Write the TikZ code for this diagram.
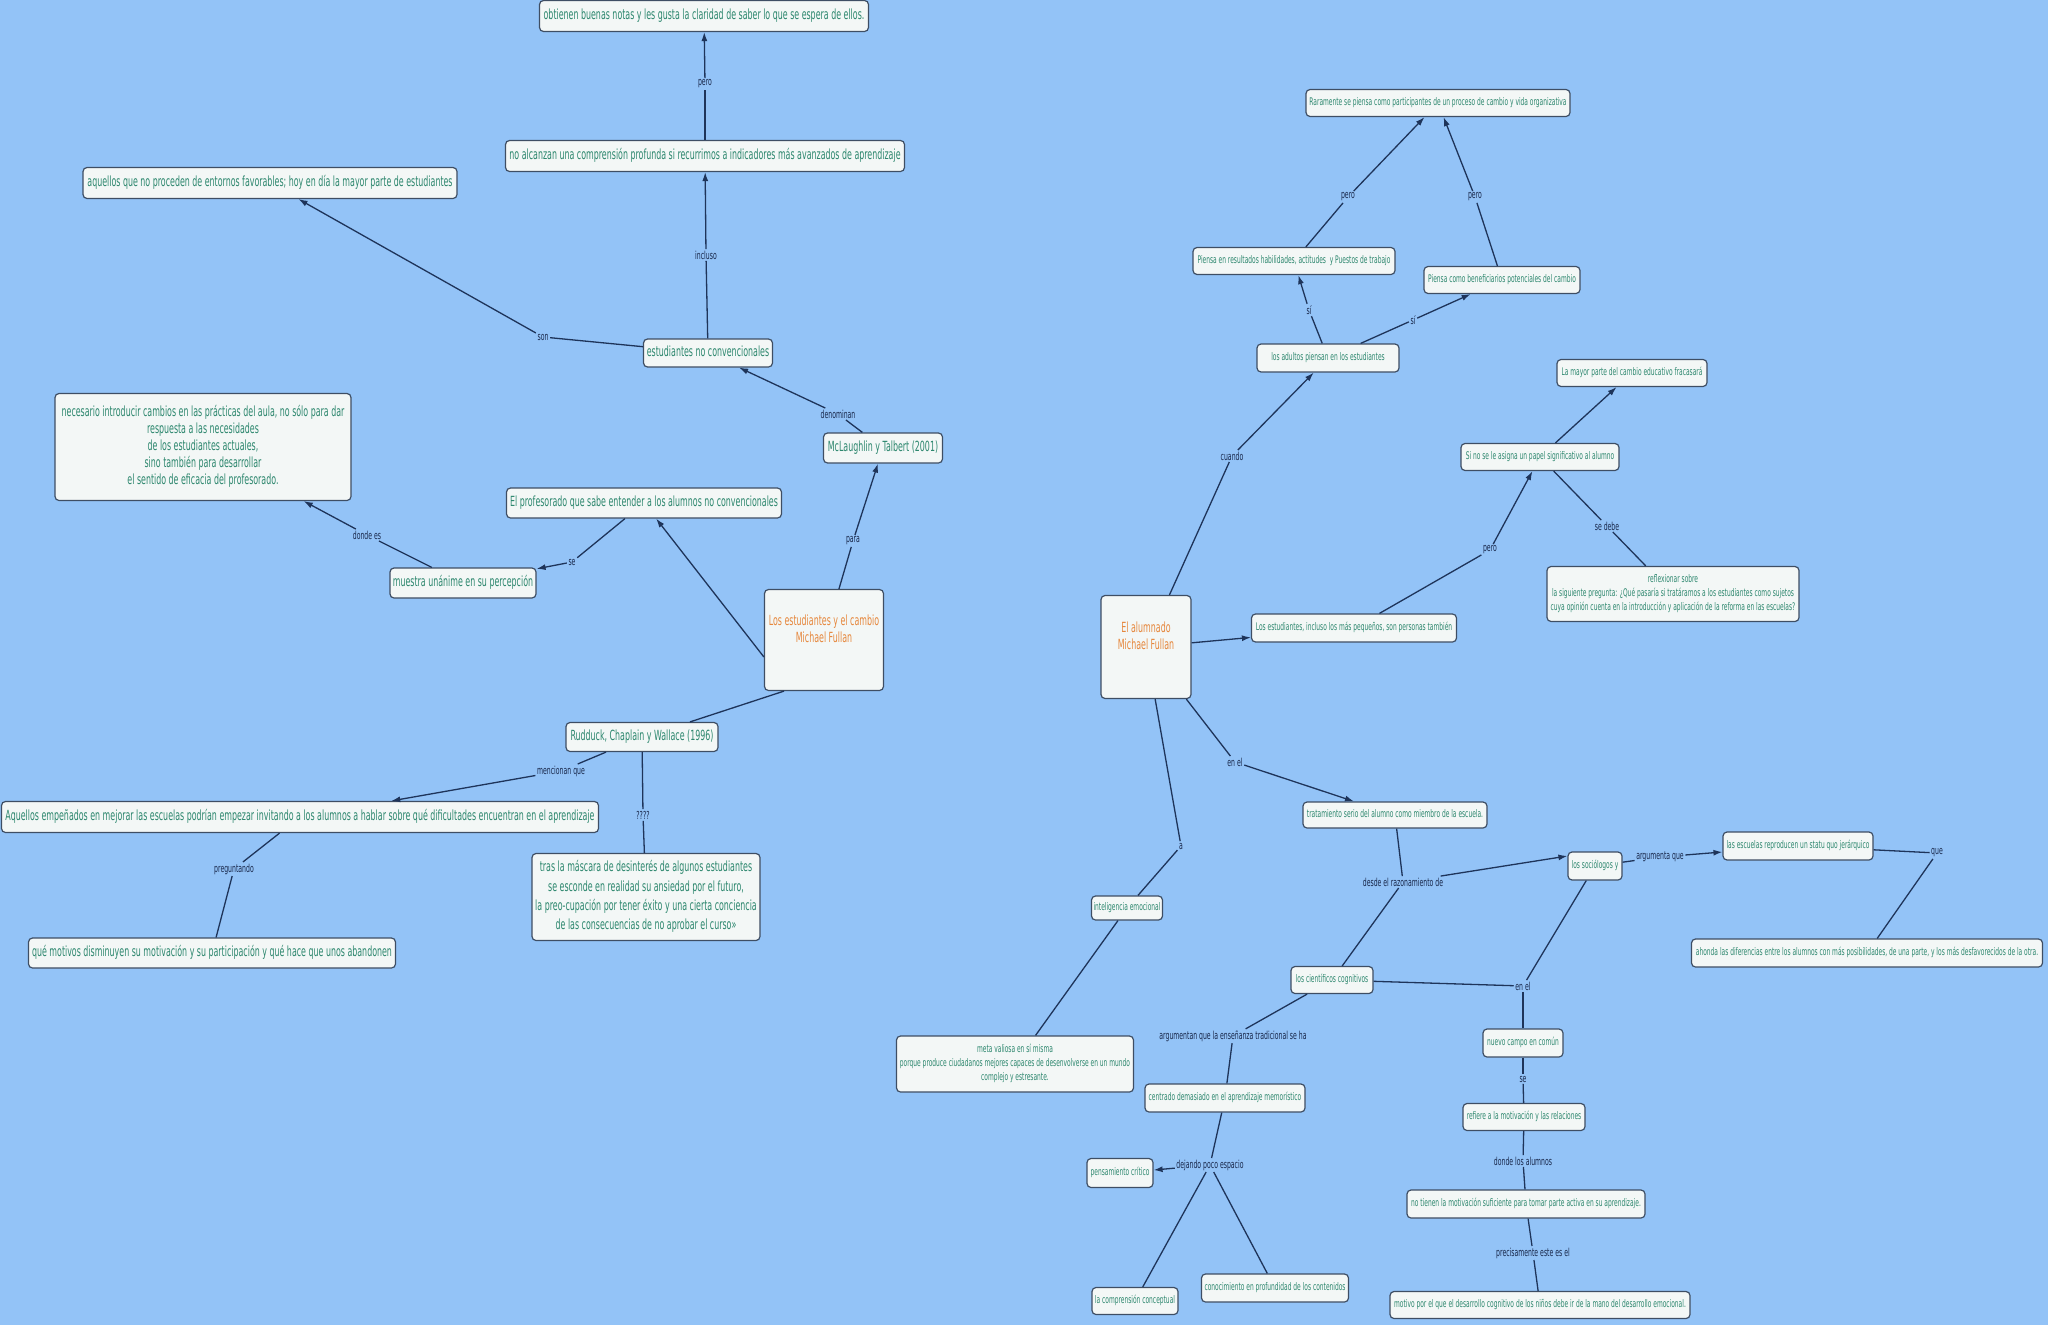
\documentclass[tikz,border=0pt]{standalone}
\usepackage{fontspec}
\usepackage{graphicx}
\setmainfont{DejaVu Sans}
\usetikzlibrary{arrows.meta}
\definecolor{bg}{RGB}{147,195,247}
\definecolor{boxfill}{RGB}{243,247,246}
\definecolor{boxdraw}{RGB}{62,78,100}
\definecolor{ctext}{RGB}{45,135,110}
\definecolor{ltext}{RGB}{25,40,75}
\definecolor{linec}{RGB}{30,52,90}
\definecolor{orangec}{RGB}{230,135,60}
\newcommand{\Lt}[1]{\scalebox{0.565}[1]{\fontsize{14}{17}\selectfont\begin{tabular}{@{}c@{}}#1\end{tabular}}}
\newcommand{\Tt}[1]{\scalebox{0.565}[1]{\fontsize{14}{19.3}\selectfont\begin{tabular}{@{}c@{}}#1\end{tabular}}}
\newcommand{\Rt}[1]{\scalebox{0.565}[1]{\fontsize{10.5}{14}\selectfont\begin{tabular}{@{}c@{}}#1\end{tabular}}}
\newcommand{\Lb}[1]{\scalebox{0.56}[1]{\fontsize{11}{12}\selectfont #1}}
\tikzset{
  cbox/.style={draw=boxdraw, line width=1.2pt, fill=boxfill, rounded corners=4pt, inner sep=0pt, text=ctext},
  mainbox/.style={cbox, text=orangec},
  lbl/.style={inner sep=1.5pt, text=ltext},
  conn/.style={draw=linec, line width=1.3pt},
  arr/.style={conn, -{Latex[length=9pt,width=6pt]}}
}
\begin{document}
\begin{tikzpicture}[x=1pt,y=-1pt]
\fill[bg] (0,0) rectangle (2048,1325);
\useasboundingbox (0,0) rectangle (2048,1325);

% ---------- left map ----------
\node[cbox, minimum width=329pt, minimum height=31pt] (obt) at (704,16) {\Lt{obtienen buenas notas y les gusta la claridad de saber lo que se espera de ellos.}};
\node[cbox, minimum width=399pt, minimum height=31pt] (noal) at (705,156) {\Lt{no alcanzan una comprensión profunda si recurrimos a indicadores más avanzados de aprendizaje}};
\node[cbox, minimum width=374pt, minimum height=31pt] (aqu) at (270,183) {\Lt{aquellos que no proceden de entornos favorables; hoy en día la mayor parte de estudiantes}};
\node[cbox, minimum width=129pt, minimum height=28pt] (est) at (708,353) {\Lt{estudiantes no convencionales}};
\node[cbox, minimum width=119pt, minimum height=30pt] (mcl) at (883,448) {\Lt{McLaughlin y Talbert (2001)}};
\node[cbox, minimum width=275pt, minimum height=30pt] (prof) at (644,503) {\Lt{El profesorado que sabe entender a los alumnos no convencionales}};
\node[cbox, minimum width=296pt, minimum height=107pt] (nec) at (203,447) {\Lt{necesario introducir cambios en las prácticas del aula, no sólo para dar\\respuesta a las necesidades\\de los estudiantes actuales,\\sino también para desarrollar\\el sentido de eficacia del profesorado.}};
\node[cbox, minimum width=146pt, minimum height=30pt] (mue) at (463,583) {\Lt{muestra unánime en su percepción}};
\node[mainbox, minimum width=119pt, minimum height=101pt] (cen1) at (824,640) {\Lt{Los estudiantes y el cambio\\Michael Fullan\\[18pt]}};
\node[cbox, minimum width=152pt, minimum height=29pt] (rud) at (642,737) {\Lt{Rudduck, Chaplain y Wallace (1996)}};
\node[cbox, minimum width=597pt, minimum height=31pt] (aqe) at (300,817) {\Lt{Aquellos empeñados en mejorar las escuelas podrían empezar invitando a los alumnos a hablar sobre qué dificultades encuentran en el aprendizaje}};
\node[cbox, minimum width=367pt, minimum height=30pt] (que) at (212,953) {\Lt{qué motivos disminuyen su motivación y su participación y qué hace que unos abandonen}};
\node[cbox, minimum width=228pt, minimum height=87pt] (tras) at (646,897) {\Tt{tras la máscara de desinterés de algunos estudiantes\\se esconde en realidad su ansiedad por el futuro,\\la preo-cupación por tener éxito y una cierta conciencia\\de las consecuencias de no aprobar el curso»}};

% left labels
\node[lbl] (lpero1) at (705,84) {\Lb{pero}};
\node[lbl] (lincl) at (706,255) {\Lb{incluso}};
\node[lbl] (lson) at (543,337) {\Lb{son}};
\node[lbl] (lden) at (838,414) {\Lb{denominan}};
\node[lbl] (lpara) at (853,541) {\Lb{para}};
\node[lbl] (ldes) at (367,535) {\Lb{donde es}};
\node[lbl] (lse1) at (572,562) {\Lb{se}};
\node[lbl] (lmen) at (561,771) {\Lb{mencionan que}};
\node[lbl] (lpreg) at (234,869) {\Lb{preguntando}};
\node[lbl] (lq) at (643,815) {\Lb{????}};

% left connectors
\draw[conn] (noal) -- (lpero1); \draw[arr] (lpero1) -- (obt);
\draw[conn] (est) -- (lincl); \draw[arr] (lincl) -- (noal);
\draw[conn] (est) -- (lson); \draw[arr] (lson) -- (aqu);
\draw[conn] (mcl) -- (lden); \draw[arr] (lden) -- (est);
\draw[conn] (cen1) -- (lpara); \draw[arr] (lpara) -- (mcl);
\draw[arr] ([yshift=-17pt]cen1.west) -- (prof);
\draw[conn] (prof) -- (lse1); \draw[arr] (lse1) -- (mue);
\draw[conn] (mue) -- (ldes); \draw[arr] (ldes) -- (nec);
\draw[conn] ([xshift=-40pt]cen1.south) -- ([xshift=48pt]rud.north);
\draw[conn] (rud) -- (lmen); \draw[arr] (lmen) -- (aqe);
\draw[conn] (rud) -- (lq); \draw[conn] (lq) -- (tras);
\draw[conn] (aqe) -- (lpreg); \draw[conn] (lpreg) -- (que);

% ---------- right map ----------
\node[mainbox, minimum width=90pt, minimum height=103pt] (cen2) at (1146,647) {\Lt{El alumnado\\Michael Fullan\\[18pt]}};
\node[cbox, minimum width=264pt, minimum height=27pt] (rar) at (1438,103) {\Rt{Raramente se piensa como participantes de un proceso de cambio y vida organizativa}};
\node[cbox, minimum width=202pt, minimum height=27pt] (pres) at (1294,261) {\Rt{Piensa en resultados habilidades, actitudes\ \ y Puestos de trabajo}};
\node[cbox, minimum width=156pt, minimum height=27pt] (pcom) at (1502,280) {\Rt{Piensa como beneficiarios potenciales del cambio}};
\node[cbox, minimum width=142pt, minimum height=28pt] (adu) at (1328,358) {\Rt{los adultos piensan en los estudiantes}};
\node[cbox, minimum width=150pt, minimum height=27pt] (may) at (1632,373) {\Rt{La mayor parte del cambio educativo fracasará}};
\node[cbox, minimum width=158pt, minimum height=27pt] (sino) at (1540,457) {\Rt{Si no se le asigna un papel significativo al alumno}};
\node[cbox, minimum width=252pt, minimum height=55pt] (refl) at (1673,594) {\Rt{reflexionar sobre\\la siguiente pregunta: ¿Qué pasaría si tratáramos a los estudiantes como sujetos\\cuya opinión cuenta en la introducción y aplicación de la reforma en las escuelas?}};
\node[cbox, minimum width=205pt, minimum height=28pt] (lep) at (1354,628) {\Rt{Los estudiantes, incluso los más pequeños, son personas también}};
\node[cbox, minimum width=184pt, minimum height=26pt] (trat) at (1395,815) {\Rt{tratamiento serio del alumno como miembro de la escuela.}};
\node[cbox, minimum width=71pt, minimum height=24pt] (intel) at (1127,908) {\Rt{inteligencia emocional}};
\node[cbox, minimum width=237pt, minimum height=56pt] (meta) at (1015,1064) {\Rt{meta valiosa en sí misma\\porque produce ciudadanos mejores capaces de desenvolverse en un mundo\\complejo y estresante.}};
\node[cbox, minimum width=82pt, minimum height=27pt] (cient) at (1332,980) {\Rt{los científicos cognitivos}};
\node[cbox, minimum width=54pt, minimum height=28pt] (soc) at (1595,866) {\Rt{los sociólogos y}};
\node[cbox, minimum width=150pt, minimum height=28pt] (esc) at (1798,846) {\Rt{las escuelas reproducen un statu quo jerárquico}};
\node[cbox, minimum width=351pt, minimum height=28pt] (aho) at (1867,953) {\Rt{ahonda las diferencias entre los alumnos con más posibilidades, de una parte, y los más desfavorecidos de la otra.}};
\node[cbox, minimum width=80pt, minimum height=28pt] (nue) at (1523,1043) {\Rt{nuevo campo en común}};
\node[cbox, minimum width=122pt, minimum height=27pt] (refm) at (1524,1117) {\Rt{refiere a la motivación y las relaciones}};
\node[cbox, minimum width=238pt, minimum height=28pt] (noti) at (1526,1204) {\Rt{no tienen la motivación suficiente para tomar parte activa en su aprendizaje.}};
\node[cbox, minimum width=300pt, minimum height=27pt] (moti) at (1540,1305) {\Rt{motivo por el que el desarrollo cognitivo de los niños debe ir de la mano del desarrollo emocional.}};
\node[cbox, minimum width=160pt, minimum height=28pt] (centr) at (1225,1098) {\Rt{centrado demasiado en el aprendizaje memorístico}};
\node[cbox, minimum width=66pt, minimum height=29pt] (pen) at (1120,1173) {\Rt{pensamiento crítico}};
\node[cbox, minimum width=86pt, minimum height=27pt] (comp) at (1135,1301) {\Rt{la comprensión conceptual}};
\node[cbox, minimum width=147pt, minimum height=28pt] (cono) at (1275,1288) {\Rt{conocimiento en profundidad de los contenidos}};

% right labels
\node[lbl] (lcuando) at (1232,456) {\Lb{cuando}};
\node[lbl] (lpero2) at (1348,197) {\Lb{pero}};
\node[lbl] (lpero3) at (1475,197) {\Lb{pero}};
\node[lbl] (lsi1) at (1309,310) {\Lb{sí}};
\node[lbl] (lsi2) at (1413,320) {\Lb{sí}};
\node[lbl] (lpero4) at (1490,550) {\Lb{pero}};
\node[lbl] (lsedebe) at (1607,526) {\Lb{se debe}};
\node[lbl] (lenel1) at (1235,762) {\Lb{en el}};
\node[lbl] (la) at (1181,846) {\Lb{a}};
\node[lbl] (ldesde) at (1403,882) {\Lb{desde el razonamiento de}};
\node[lbl] (larg) at (1660,857) {\Lb{argumenta que}};
\node[lbl] (lque) at (1937,853) {\Lb{que}};
\node[lbl] (lenel2) at (1523,986) {\Lb{en el}};
\node[lbl] (largum) at (1233,1036) {\Lb{argumentan que la enseñanza tradicional se ha}};
\node[lbl] (ldej) at (1210,1165) {\Lb{dejando poco espacio}};
\node[lbl] (lse2) at (1523,1079) {\Lb{se}};
\node[lbl] (ldonde) at (1523,1161) {\Lb{donde los alumnos}};
\node[lbl] (lprec) at (1533,1253) {\Lb{precisamente este es el}};

% right connectors
\draw[conn] (cen2) -- (lcuando); \draw[arr] (lcuando) -- (adu);
\draw[conn] (adu) -- (lsi1); \draw[arr] (lsi1) -- (pres);
\draw[conn] (adu) -- (lsi2); \draw[arr] (lsi2) -- (pcom);
\draw[conn] (pres) -- (lpero2); \draw[arr] (lpero2) -- (rar);
\draw[conn] (pcom) -- (lpero3); \draw[arr] (lpero3) -- (rar);
\draw[arr] (cen2) -- (lep);
\draw[conn] (lep) -- (lpero4); \draw[arr] (lpero4) -- (sino);
\draw[arr] (sino) -- (may);
\draw[conn] (sino) -- (lsedebe); \draw[conn] (lsedebe) -- (refl);
\draw[conn] (cen2) -- (lenel1); \draw[arr] (lenel1) -- (trat);
\draw[conn] (cen2) -- (la); \draw[conn] (la) -- (intel);
\draw[conn] (intel) -- (meta);
\draw[conn] (trat) -- (ldesde); \draw[arr] (ldesde) -- ([yshift=10pt]soc.west);
\draw[conn] (ldesde) -- (cient);
\draw[conn] (soc) -- (larg); \draw[arr] (larg) -- (esc);
\draw[conn] (esc) -- (lque); \draw[conn] (lque) -- (aho);
\draw[conn] (cient) -- (lenel2); \draw[conn] (soc) -- (lenel2); \draw[conn] (lenel2) -- (nue);
\draw[conn] (cient) -- (largum); \draw[conn] (largum) -- (centr);
\draw[conn] (centr) -- (ldej); \draw[arr] (ldej) -- (pen);
\draw[conn] (ldej) -- (comp); \draw[conn] (ldej) -- (cono);
\draw[conn] (nue) -- (lse2); \draw[conn] (lse2) -- (refm);
\draw[conn] (refm) -- (ldonde); \draw[conn] (ldonde) -- (noti);
\draw[conn] (noti) -- (lprec); \draw[conn] (lprec) -- (moti);
\end{tikzpicture}
\end{document}
